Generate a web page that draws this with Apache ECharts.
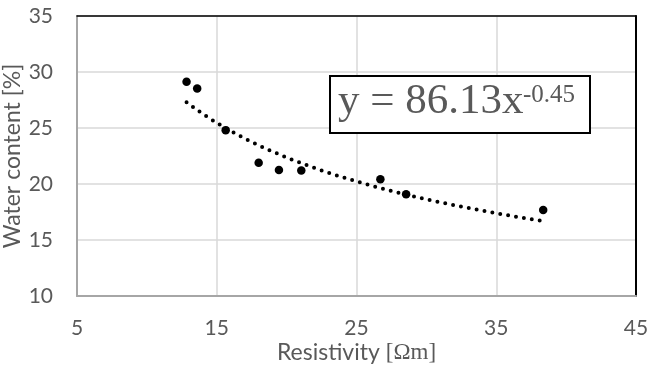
<!DOCTYPE html>
<html>
<head>
<meta charset="utf-8">
<script src="https://cdn.jsdelivr.net/npm/echarts@6/dist/echarts.min.js"></script>
<style>
  html, body { margin: 0; padding: 0; background: #fff; }
  #chart { width: 650px; height: 368px; }
</style>
</head>
<body>
<div id="chart"></div>
<script>
// measured points
const resistivity = [12.84, 13.6, 15.64, 18.0, 19.45, 21.05, 26.71, 28.55, 38.36];
const waterContent = [29.12, 28.53, 24.81, 21.9, 21.25, 21.2, 20.42, 19.08, 17.68];

// power trendline shown on the chart: y = 86.13 x^-0.45
const trendA = 86.13;
const trendB = -0.45;

const xTicks = [5, 15, 25, 35, 45];
const yTicks = [10, 15, 20, 25, 30, 35];

const labelColor = "#595959";
const sansFont = "Lato, 'Open Sans', sans-serif";
const serifFont = "'Liberation Serif', serif";

const xMin = Math.min(...resistivity);
const xMax = Math.max(...resistivity);
const trendData = [];
for (let i = 0; i <= 100; i++) {
  const x = xMin + (xMax - xMin) * i / 100;
  trendData.push([x, trendA * Math.pow(x, trendB)]);
}

const chart = echarts.init(document.getElementById("chart"));
chart.setOption({
  animation: false,
  backgroundColor: "#fff",
  grid: {
    left: 77, right: 14, top: 16, bottom: 72,
    outerBoundsMode: "none"
  },
  xAxis: [
    {
      type: "value",
      min: xTicks[0], max: xTicks[xTicks.length - 1], interval: 10,
      name: "Resistivity {s|[Ωm]}",
      nameLocation: "middle",
      nameGap: 45,
      nameMoveOverlap: false,
      nameTextStyle: {
        color: labelColor, fontSize: 23, fontFamily: sansFont,
        rich: { s: { color: labelColor, fontSize: 23, fontFamily: serifFont } }
      },
      axisLine: { lineStyle: { color: "#a6a6a6", width: 2 } },
      axisTick: { show: false },
      axisLabel: { color: labelColor, fontSize: 21, fontFamily: sansFont, margin: 22 },
      splitLine: { lineStyle: { color: "#d9d9d9", width: 1.5 } }
    },
    {
      type: "value", position: "top",
      min: xTicks[0], max: xTicks[xTicks.length - 1],
      axisLine: { show: true, lineStyle: { color: "#000", width: 1.5 } },
      axisTick: { show: false }, axisLabel: { show: false }, splitLine: { show: false }
    }
  ],
  yAxis: [
    {
      type: "value",
      min: yTicks[0], max: yTicks[yTicks.length - 1], interval: 5,
      name: "Water content [%]",
      nameLocation: "middle",
      nameGap: 53,
      nameMoveOverlap: false,
      nameTextStyle: { color: labelColor, fontSize: 23, fontFamily: sansFont },
      axisLine: { show: true, lineStyle: { color: "#a6a6a6", width: 2 } },
      axisTick: { show: false },
      axisLabel: { color: labelColor, fontSize: 21, fontFamily: sansFont, margin: 24 },
      splitLine: { lineStyle: { color: "#d9d9d9", width: 1.5 } }
    },
    {
      type: "value", position: "right",
      min: yTicks[0], max: yTicks[yTicks.length - 1],
      axisLine: { show: true, lineStyle: { color: "#000", width: 2 } },
      axisTick: { show: false }, axisLabel: { show: false }, splitLine: { show: false }
    }
  ],
  series: [
    {
      type: "line",
      data: trendData,
      showSymbol: false,
      lineStyle: { color: "#000", width: 4, type: [0, 8], cap: "round" },
      z: 2
    },
    {
      type: "scatter",
      data: resistivity.map((x, i) => [x, waterContent[i]]),
      symbolSize: 8.5,
      itemStyle: { color: "#000", opacity: 1 },
      z: 3
    }
  ],
  graphic: [
    {
      type: "rect",
      left: 329, top: 75,
      shape: { width: 260, height: 57 },
      style: { fill: "#fff", stroke: "#000", lineWidth: 2 },
      z: 10
    },
    {
      type: "text",
      x: 338, y: 123,
      style: {
        text: "y = 86.13x",
        fill: labelColor,
        font: "43px " + serifFont,
        textVerticalAlign: "bottom"
      },
      z: 11
    },
    {
      type: "text",
      x: 523, y: 108,
      style: {
        text: "-0.45",
        fill: labelColor,
        font: "25px " + serifFont,
        textVerticalAlign: "bottom"
      },
      z: 11
    }
  ]
});
</script>
</body>
</html>
